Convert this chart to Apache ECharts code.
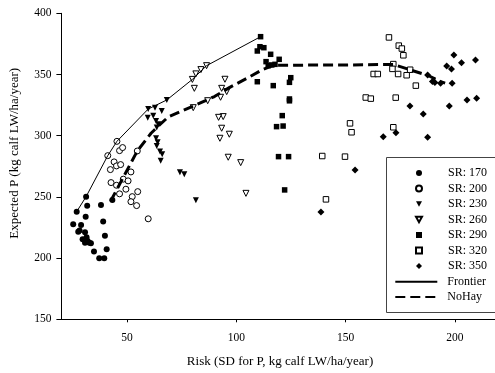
<!DOCTYPE html>
<html>
<head>
<meta charset="utf-8">
<script src="https://cdn.jsdelivr.net/npm/echarts@6/dist/echarts.min.js"></script>
<style>html,body{margin:0;padding:0;background:#fff;}#c{width:495px;height:373px;}</style>
</head>
<body>
<div id="c"></div>
<script>
const xTicks = [50, 100, 150, 200];
const sr170 = [[25.4,227.6],[27.0,237.9],[31.3,250.2],[31.8,242.8],[31.1,233.8],[29.0,227.1],[27.7,221.6],[30.8,221.1],[29.7,215.4],[30.8,212.6],[32.0,214.0],[33.5,212.1],[34.9,205.3],[37.3,199.9],[39.6,199.9],[38.1,243.4],[39.1,229.8],[39.9,218.3],[40.7,207.2],[43.3,247.5],[28.3,222.5],[31.5,217.0],[32.8,212.5]];
const sr200 = [[41.2,283.7],[45.4,295.4],[46.6,287.8],[48.0,290.3],[42.4,272.3],[44.1,278.6],[45.2,275.3],[47.1,276.4],[42.7,261.7],[45.2,259.5],[46.6,252.5],[49.5,256.3],[48.3,264.5],[50.5,263.1],[51.8,270.4],[52.4,250.2],[51.8,246.1],[54.4,242.9],[54.9,254.3],[54.7,287.5],[59.7,232.1]];
const sr230 = [[68.2,329.2],[59.7,321.8],[62.8,322.9],[65.9,320.2],[59.5,314.7],[62.0,316.4],[63.3,312.0],[64.3,309.3],[63.6,306.6],[63.3,297.9],[64.0,294.6],[63.6,291.6],[65.1,287.0],[66.1,284.8],[65.4,279.6],[74.2,270.1],[76.2,268.5],[81.5,247.2]];
const sr260 = [[79.9,346.0],[81.5,350.5],[83.8,354.0],[86.4,357.2],[80.8,338.7],[80.3,322.9],[86.9,328.6],[94.8,346.1],[93.3,338.7],[95.6,336.0],[92.8,331.4],[94.0,315.6],[91.9,315.0],[93.3,306.1],[96.8,301.2],[92.5,297.9],[96.3,282.4],[102.0,278.0],[104.4,252.9]];
const sr290 = [[111.1,380.9],[110.8,372.7],[112.6,371.9],[109.6,369.2],[115.7,366.5],[119.6,362.4],[113.6,360.5],[116.2,357.8],[114.6,357.2],[117.7,358.3],[124.9,347.4],[124.3,343.6],[109.6,344.1],[116.9,340.9],[124.3,330.0],[124.3,328.5],[121.0,316.4],[118.4,307.4],[121.4,307.9],[119.3,282.9],[123.9,282.9],[122.1,255.7]];
const sr320 = [[169.8,380.3],[174.3,373.6],[175.7,371.2],[176.4,365.7],[171.8,358.5],[171.4,354.6],[174.0,350.4],[179.5,353.9],[177.9,349.4],[162.8,350.4],[164.7,350.4],[182.1,340.9],[159.2,331.2],[161.5,330.3],[172.9,331.1],[152.0,310.1],[152.7,302.8],[171.8,306.9],[139.3,283.4],[149.7,282.9],[141.0,248.0]];
const sr350 = [[199.5,366.0],[203.0,359.7],[209.4,361.9],[196.2,357.0],[198.4,354.5],[187.5,349.6],[189.7,344.2],[190.8,343.4],[193.4,342.9],[198.7,342.9],[205.5,329.2],[209.9,330.6],[197.4,324.3],[179.4,324.3],[185.5,317.8],[167.2,299.2],[173.0,302.5],[187.5,298.7],[154.3,272.0],[138.7,237.7]];
const frontier = [[27.0,238.0],[31.3,250.2],[41.2,283.7],[45.4,295.4],[59.7,321.8],[68.2,329.2],[79.9,346.0],[86.4,357.2],[111.1,380.9]];
const noHay = [[42.5,246.5],[54.7,287.5],[61.0,302.0],[65.0,309.0],[69.0,315.5],[80.0,324.0],[90.0,332.0],[97.0,339.5],[105.0,347.0],[112.0,354.0],[117.0,357.5],[125.0,357.6],[150.0,357.8],[172.0,358.2],[180.0,353.5],[188.0,349.0],[193.0,344.5],[195.5,343.0]];

const FONT = "'Liberation Serif', 'Times New Roman', serif";
const TRI_DOWN = 'path://M0,0L10,0L5,9Z';
const filled = {color:'#000', opacity:1};
const open = {color:'#fff', borderColor:'#000', borderWidth:1, opacity:1};
function sc(name, data, symbol, size, style, rot) {
  return {type:'scatter', name:name, data:data, symbol:symbol, symbolSize:size, symbolRotate:rot||0, itemStyle:style, z:2, silent:true};
}
const legendText = {fontFamily:FONT, fontSize:12, color:'#000', lineHeight:12};
const chart = echarts.init(document.getElementById('c'), null, {renderer:'canvas'});
chart.setOption({
  animation:false,
  backgroundColor:'#fff',
  textStyle:{fontFamily:FONT, color:'#000'},
  grid:{left:61.4, top:13.3, right:-3.7, bottom:53.7, outerBoundsMode:'none', containLabel:false},
  xAxis:{type:'value', min:20, max:220,
    name:'Risk (SD for P, kg calf LW/ha/year)', nameLocation:'middle', nameGap:36,
    nameTextStyle:{fontFamily:FONT, fontSize:13, color:'#000'},
    axisLine:{lineStyle:{color:'#000', width:1}},
    axisTick:{show:true, length:3, lineStyle:{color:'#000'}, customValues:xTicks},
    axisLabel:{fontFamily:FONT, fontSize:11.5, color:'#000', margin:13, customValues:xTicks},
    splitLine:{show:false}},
  yAxis:{type:'value', min:150, max:400, interval:50,
    name:'Expected P (kg calf LW/ha/year)', nameLocation:'middle', nameGap:40,
    nameTextStyle:{fontFamily:FONT, fontSize:13, color:'#000', padding:[0,0,0,26]},
    axisLine:{show:true, lineStyle:{color:'#000', width:1}},
    axisTick:{show:true, length:5, lineStyle:{color:'#000'}},
    axisLabel:{fontFamily:FONT, fontSize:11.5, color:'#000', margin:10},
    splitLine:{show:false}},
  graphic:[{type:'rect', z:3, silent:true,
    shape:{x:386.5, y:157.5, width:130, height:155},
    style:{fill:'#fff', stroke:'#444', lineWidth:1}}],
  legend:[
    {orient:'vertical', left:415, top:167, padding:0, z:5,
      itemWidth:6, itemHeight:6, itemGap:3.5,
      textStyle:Object.assign({padding:[0,0,0,21]}, legendText),
      selectedMode:false,
      data:['SR: 170','SR: 200',{name:'SR: 230', icon:TRI_DOWN},{name:'SR: 260', icon:TRI_DOWN},'SR: 290','SR: 320','SR: 350']},
    {orient:'vertical', left:394.3, top:275.7, padding:0, z:5,
      itemWidth:42, itemHeight:6, itemGap:3.3,
      itemStyle:{opacity:0},
      textStyle:Object.assign({padding:[0,0,0,5]}, legendText),
      selectedMode:false,
      data:['Frontier','NoHay']}
  ],
  series:[
    sc('SR: 170', sr170, 'circle', 6, filled),
    sc('SR: 200', sr200, 'circle', 6, open),
    sc('SR: 230', sr230, 'triangle', 6, filled, 180),
    sc('SR: 260', sr260, 'triangle', 6, open, 180),
    sc('SR: 290', sr290, 'rect', 5.5, filled),
    sc('SR: 320', sr320, 'rect', 5.5, open),
    sc('SR: 350', sr350, 'diamond', 7, filled),
    {type:'line', name:'Frontier', data:frontier, symbol:'none', z:3, silent:true,
      lineStyle:{color:'#000', width:1}, itemStyle:{color:'#000'}},
    {type:'line', name:'NoHay', data:noHay, symbol:'none', z:3, silent:true,
      lineStyle:{color:'#000', width:3, type:[10,5]}, itemStyle:{color:'#000'}}
  ]
});
</script>
</body>
</html>
